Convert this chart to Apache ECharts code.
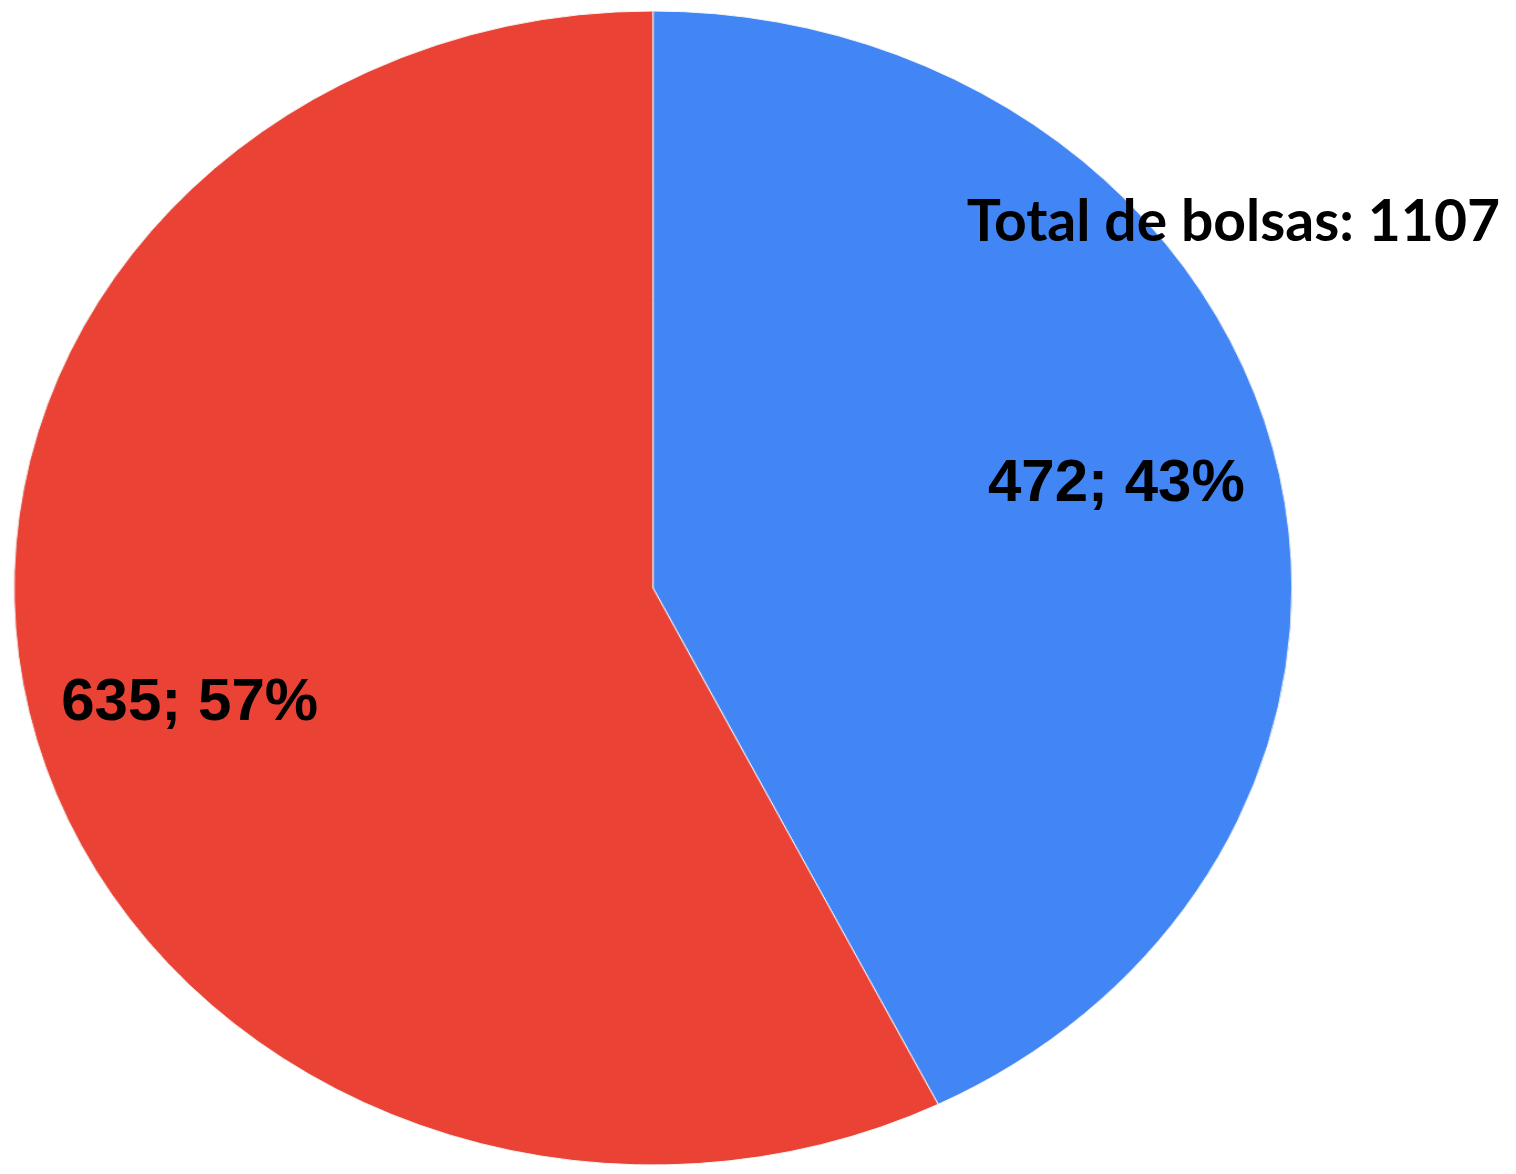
<!DOCTYPE html>
<html>
<head>
<meta charset="utf-8">
<script src="https://cdn.jsdelivr.net/npm/echarts@6/dist/echarts.min.js"></script>
<style>
	html, body { margin: 0; padding: 0; background: #fff; }
	#wrap { position: relative; width: 1516px; height: 1174px; overflow: hidden; }
	#pie { position: absolute; left: 0; top: 0; height: 1174px; transform-origin: 0 0; }
	#over { position: absolute; left: 0; top: 0; width: 1516px; height: 1174px; }
</style>
</head>
<body>
<div id="wrap">
	<div id="pie"></div>
	<div id="over"></div>
</div>
<script>
// dados do gráfico
var categorias = ['Categoria 1', 'Categoria 2'];
var valores = [472, 635];
var cores = ['#4285f4', '#ea4335'];
var titulo = 'Total de bolsas: 1107';

// a pizza do original é uma elipse: desenha um círculo e estica na horizontal
var rx = 639, ry = 577;
var sx = rx / ry;
var pieDiv = document.getElementById('pie');
pieDiv.style.width = (1516 / sx) + 'px';
pieDiv.style.transform = 'scaleX(' + sx + ')';

var ChartData = [];
for (var i = 0; i < valores.length; i++) {
	ChartData.push({
		name: categorias[i],
		value: valores[i],
		itemStyle: { color: cores[i] }
	});
}

var pie = echarts.init(pieDiv);
pie.setOption({
	animation: false,
	series: [{
		type: 'pie',
		center: [653 / sx, 588],
		radius: ry,
		startAngle: 90,
		clockwise: true,
		silent: true,
		label: { show: false },
		labelLine: { show: false },
		itemStyle: { borderColor: '#f4f4f4', borderWidth: 1 },
		data: ChartData
	}]
});

// camada de cima, sem esticar: rótulos e título
var ghost = [];
for (var i = 0; i < valores.length; i++) {
	ghost.push({ name: categorias[i], value: valores[i] });
}

var over = echarts.init(document.getElementById('over'));
over.setOption({
	animation: false,
	title: {
		text: titulo,
		right: 11,
		top: 189,
		textStyle: {
			fontFamily: 'Lato',
			fontWeight: 'bold',
			fontSize: 57,
			color: '#000'
		}
	},
	series: [{
		type: 'pie',
		center: [653, 594],
		radius: 946,
		startAngle: 90,
		clockwise: true,
		silent: true,
		percentPrecision: 0,
		itemStyle: { color: 'rgba(0,0,0,0)' },
		label: {
			show: true,
			position: 'inside',
			formatter: '{c}; {d}%',
			fontFamily: 'Liberation Sans',
			fontWeight: 'bold',
			fontSize: 60,
			color: '#000'
		},
		labelLine: { show: false },
		data: ghost
	}]
});
</script>
</body>
</html>
